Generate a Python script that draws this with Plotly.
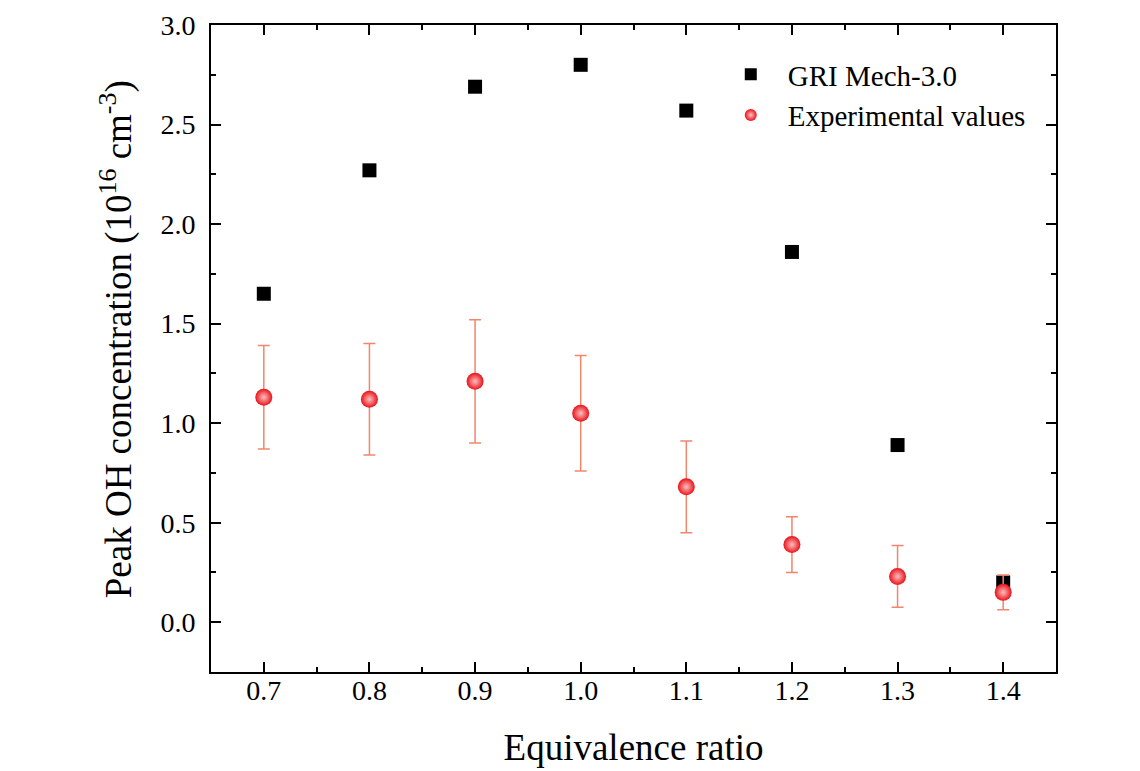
import plotly.graph_objects as go

phi = [0.7, 0.8, 0.9, 1.0, 1.1, 1.2, 1.3, 1.4]
gri_mech = [1.65, 2.27, 2.69, 2.80, 2.57, 1.86, 0.89, 0.20]
exp_values = [1.13, 1.12, 1.21, 1.05, 0.68, 0.39, 0.23, 0.15]
exp_err = [0.26, 0.28, 0.31, 0.29, 0.23, 0.14, 0.155, 0.087]

x_ticks = [0.7, 0.8, 0.9, 1.0, 1.1, 1.2, 1.3, 1.4]
y_ticks = [0.0, 0.5, 1.0, 1.5, 2.0, 2.5, 3.0]

FONT = "Liberation Serif"

fig = go.Figure()
fig.add_trace(go.Scatter(
    x=phi, y=gri_mech, mode="markers", name="GRI Mech-3.0",
    marker=dict(symbol="square", size=14, color="black"),
))
fig.add_trace(go.Scatter(
    x=phi, y=exp_values, mode="markers", name="Experimental values",
    marker=dict(symbol="circle", size=17, color="#e8121a",
                gradient=dict(type="radial", color="#ffc0c0"),
                line=dict(width=0)),
    error_y=dict(type="data", array=exp_err, visible=True,
                 color="#f2866c", thickness=1.5, width=6),
))

axis_common = dict(
    showline=True, linecolor="black", linewidth=2, mirror="ticks",
    ticks="inside", ticklen=10, tickwidth=2, tickcolor="black",
    showgrid=False, zeroline=False, automargin=False,
    tickfont=dict(family=FONT, size=28, color="black"),
)

fig.update_xaxes(
    range=[0.65, 1.45], tickvals=x_ticks,
    ticktext=[f"{v:.1f}" for v in x_ticks],
    minor=dict(ticks="inside", ticklen=5, tickwidth=2, tickcolor="black", dtick=0.05, tick0=0.65, showgrid=False),
    title=dict(text="Equivalence ratio", font=dict(family=FONT, size=37, color="black"), standoff=30),
    ticklabelstandoff=-8,
    **axis_common,
)
fig.update_yaxes(
    range=[-0.25, 3.0], tickvals=y_ticks,
    ticktext=[f"{v:.1f}" for v in y_ticks],
    minor=dict(ticks="inside", ticklen=5, tickwidth=2, tickcolor="black", dtick=0.25, tick0=0, showgrid=False),
    title=dict(text="&nbsp;&nbsp;Peak OH concentration (10<sup>16</sup> cm<sup>-3</sup>)",
               font=dict(family=FONT, size=37, color="black"), standoff=17),
    ticklabelstandoff=8,
    **axis_common,
)

fig.update_layout(
    width=1132, height=763,
    margin=dict(l=203, r=84, t=17, b=99),
    paper_bgcolor="white", plot_bgcolor="white",
    legend=dict(x=0.595, y=0.963, xanchor="left", yanchor="top",
                bgcolor="rgba(0,0,0,0)", font=dict(family=FONT, size=29, color="black"),
                itemsizing="constant", itemwidth=64, tracegroupgap=0),
)

fig.write_html("out.html")
